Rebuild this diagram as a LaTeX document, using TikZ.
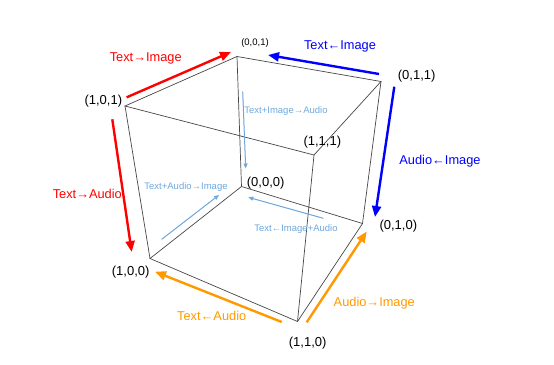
\documentclass[tikz,border=0pt]{standalone}
\usepackage{fontspec}
\setmainfont{Liberation Sans}
\usetikzlibrary{arrows.meta}
\definecolor{edgegray}{RGB}{70,70,70}
\definecolor{myred}{RGB}{255,0,0}
\definecolor{myblue}{RGB}{0,0,255}
\definecolor{myorange}{RGB}{255,153,0}
\definecolor{lightblue}{RGB}{111,168,220}
\tikzset{
  cubeedge/.style={draw=edgegray, line width=0.7pt},
  bigarrow/.style={line width=2.4pt, -{Triangle[length=11pt,width=9pt]}},
  smallarrow/.style={line width=1pt, draw=lightblue, -{Triangle[length=5pt,width=4pt]}},
  vlabel/.style={font=\fontsize{13}{15}\selectfont, text=black, inner sep=0pt},
  svlabel/.style={font=\fontsize{9.5}{11}\selectfont, text=black, inner sep=0pt},
  alabel/.style={font=\fontsize{12.8}{15}\selectfont, inner sep=0pt},
  slabel/.style={font=\fontsize{9.5}{11}\selectfont, text=lightblue, inner sep=0pt},
}
\begin{document}
\begin{tikzpicture}[x=1pt,y=-1pt]
\useasboundingbox (0,0) rectangle (554,364);
% vertices
\coordinate (v101) at (125,106);
\coordinate (v001) at (237,56.5);
\coordinate (v011) at (381,81.5);
\coordinate (v111) at (314,155);
\coordinate (v000) at (241.5,186.5);
\coordinate (v100) at (150,258.5);
\coordinate (v010) at (362.5,223.5);
\coordinate (v110) at (297.5,321.5);
% cube edges
\draw[cubeedge] (v101) -- (v001) -- (v011) -- (v111) -- cycle;
\draw[cubeedge] (v100) -- (v000) -- (v010) -- (v110) -- cycle;
\draw[cubeedge] (v101) -- (v100);
\draw[cubeedge] (v001) -- (v000);
\draw[cubeedge] (v011) -- (v010);
\draw[cubeedge] (v111) -- (v110);
% vertex labels
\node[vlabel] (l101) at (103.3,100.7) {(1,0,1)};
\node[svlabel] (l001) at (255,42.7) {(0,0,1)};
\node[vlabel] (l011) at (416.7,76) {(0,1,1)};
\node[vlabel] (l111) at (322.3,141.7) {(1,1,1)};
\node[vlabel] (l000) at (265.7,182.7) {(0,0,0)};
\node[vlabel] (l100) at (130.7,272.3) {(1,0,0)};
\node[vlabel] (l010) at (398.3,225.7) {(0,1,0)};
\node[vlabel] (l110) at (307.7,343.3) {(1,1,0)};
% arrow endpoints
\coordinate (a1s) at (126.7,97.3);  \coordinate (a1e) at (231,52);
\coordinate (a2s) at (112.3,119.3); \coordinate (a2e) at (131.7,252);
\coordinate (a3s) at (379,74);      \coordinate (a3e) at (268,55);
\coordinate (a4s) at (394.3,86.7);  \coordinate (a4e) at (375,217);
\coordinate (a5s) at (281.7,322);   \coordinate (a5e) at (155,271.7);
\coordinate (a6s) at (306.7,322.3); \coordinate (a6e) at (366.7,231.5);
\coordinate (b1s) at (242.7,91.7);  \coordinate (b1e) at (245.7,168.5);
\coordinate (b2s) at (161.7,239.3); \coordinate (b2e) at (219,195);
\coordinate (b3s) at (323.3,218.3); \coordinate (b3e) at (248.3,197.3);
% colored arrows
\draw[bigarrow, draw=myred, fill=myred] (a1s) -- (a1e);
\draw[bigarrow, draw=myred, fill=myred] (a2s) -- (a2e);
\draw[bigarrow, draw=myblue, fill=myblue] (a3s) -- (a3e);
\draw[bigarrow, draw=myblue, fill=myblue] (a4s) -- (a4e);
\draw[bigarrow, draw=myorange, fill=myorange] (a5s) -- (a5e);
\draw[bigarrow, draw=myorange, fill=myorange] (a6s) -- (a6e);
\draw[smallarrow, fill=lightblue] (b1s) -- (b1e);
\draw[smallarrow, fill=lightblue] (b2s) -- (b2e);
\draw[smallarrow, fill=lightblue] (b3s) -- (b3e);
% arrow labels
\node[alabel, text=myred] (t1) at (145.7,58.3) {Text→Image};
\node[alabel, text=myred] (t2) at (87.3,194) {Text→Audio};
\node[alabel, text=myblue] (t3) at (340,46.7) {Text←Image};
\node[alabel, text=myblue] (t4) at (440,160.7) {Audio←Image};
\node[alabel, text=myorange] (t5) at (211.7,315.7) {Text←Audio};
\node[alabel, text=myorange] (t6) at (374.3,302.7) {Audio→Image};
\node[slabel] (s1) at (286,111) {Text+Image→Audio};
\node[slabel] (s2) at (186,187.3) {Text+Audio→Image};
\node[slabel] (s3) at (296,229) {Text←Image+Audio};
\end{tikzpicture}
\end{document}
